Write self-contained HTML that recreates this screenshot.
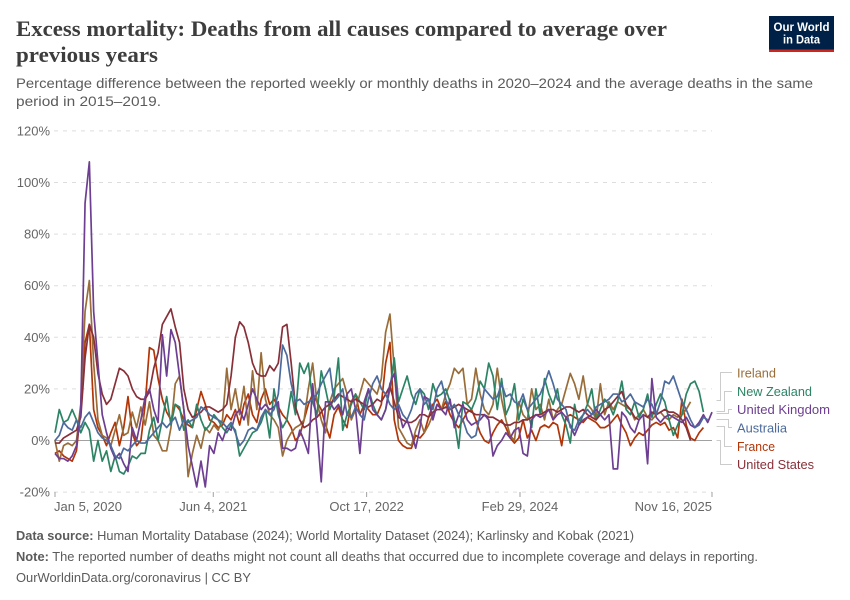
<!DOCTYPE html>
<html lang="en">
<head>
<meta charset="utf-8">
<title>Excess mortality: Deaths from all causes compared to average over previous years</title>
<style>
html,body{margin:0;padding:0;background:#fff}
svg{display:block}
text{font-family:"Liberation Sans",sans-serif}
.title{font-family:"Liberation Serif",serif;font-weight:700;font-size:22px;fill:#3d3d3d}
.sub{font-size:14px;fill:#5b5b5b}
.foot{font-size:12.5px;fill:#5b5b5b}
.tick{font-size:13px;fill:#666}
.leg{font-size:13px}
</style>
</head>
<body>
<svg id="chart" xmlns="http://www.w3.org/2000/svg" width="850" height="600" viewBox="0 0 850 600">
<rect x="0" y="0" width="850" height="600" fill="#fff"/>
<text class="title" x="16" y="36" textLength="651" lengthAdjust="spacingAndGlyphs">Excess mortality: Deaths from all causes compared to average over</text>
<text class="title" x="16" y="62" textLength="142" lengthAdjust="spacingAndGlyphs">previous years</text>
<text class="sub" x="16" y="88" textLength="797" lengthAdjust="spacingAndGlyphs">Percentage difference between the reported weekly or monthly deaths in 2020–2024 and the average deaths in the same</text>
<text class="sub" x="16" y="106" textLength="145" lengthAdjust="spacingAndGlyphs">period in 2015–2019.</text>
<g>
<rect x="769" y="16" width="65" height="36" fill="#002147"/>
<rect x="769" y="49.5" width="65" height="2.5" fill="#ce261e"/>
<text x="801.5" y="31" text-anchor="middle" font-size="12" font-weight="700" fill="#fff" textLength="56" lengthAdjust="spacingAndGlyphs">Our World</text>
<text x="801.5" y="43.5" text-anchor="middle" font-size="12" font-weight="700" fill="#fff" textLength="37" lengthAdjust="spacingAndGlyphs">in Data</text>
</g>
<g id="y-axis"></g>
<g id="x-axis"></g>
<g id="series" fill="none" stroke-width="1.7" stroke-linejoin="round"></g>
<g fill="none" stroke="#ccc" stroke-width="1">
<path d="M716.5 400.5H720.5V372.5H732"/>
<path d="M716.5 411.5H724.5V391.5H732"/>
<path d="M716.5 413.5H728.5V409.5H732"/>
<path d="M716.5 419.5H728.5V427.5H732"/>
<path d="M716.5 426.5H724.5V446.5H732"/>
<path d="M716.5 440.5H720.5V464.5H732"/>
</g>
<g>
<text class="leg" x="737" y="377.5" fill="#996D39" textLength="39" lengthAdjust="spacingAndGlyphs">Ireland</text>
<text class="leg" x="737" y="396" fill="#2C8465" textLength="75" lengthAdjust="spacingAndGlyphs">New Zealand</text>
<text class="leg" x="737" y="414" fill="#6D3E91" textLength="93" lengthAdjust="spacingAndGlyphs">United Kingdom</text>
<text class="leg" x="737" y="432.5" fill="#4C6A9C" textLength="50" lengthAdjust="spacingAndGlyphs">Australia</text>
<text class="leg" x="737" y="451" fill="#B13507" textLength="38" lengthAdjust="spacingAndGlyphs">France</text>
<text class="leg" x="737" y="469" fill="#883039" textLength="77" lengthAdjust="spacingAndGlyphs">United States</text>
</g>
<text class="foot" x="16" y="540" textLength="618" lengthAdjust="spacingAndGlyphs"><tspan font-weight="700">Data source:</tspan> Human Mortality Database (2024); World Mortality Dataset (2024); Karlinsky and Kobak (2021)</text>
<text class="foot" x="16" y="561" textLength="742" lengthAdjust="spacingAndGlyphs"><tspan font-weight="700">Note:</tspan> The reported number of deaths might not count all deaths that occurred due to incomplete coverage and delays in reporting.</text>
<text class="foot" x="16" y="582" textLength="235" lengthAdjust="spacingAndGlyphs">OurWorldinData.org/coronavirus | CC BY</text>
</svg>
<script>
const yTicks = [-20, 0, 20, 40, 60, 80, 100, 120];
const xTickDates = ["2020-01-05", "2021-06-04", "2022-10-17", "2024-02-29", "2025-11-16"];
const xTickLabels = ["Jan 5, 2020", "Jun 4, 2021", "Oct 17, 2022", "Feb 29, 2024", "Nov 16, 2025"];
const startDate = "2020-01-05";
const stepDays = 14;

const france = [
-5,-4,-6,-7,-8,-4,12,38,45,12, 5,2,-2,3,7,-2,5,17,3,-2,
0,14,36,35,24,16,11,8,14,12, 8,6,5,12,19,14,8,7,5,6,
10,8,12,6,14,18,10,7,16,20, 14,16,13,10,8,5,0,2,8,14,
18,15,12,6,1,10,13,8,5,15, 18,10,14,12,10,10,14,30,38,8,
0,-2,-3,-3,2,1,3,9,14,16, 12,15,10,7,5,8,11,12,8,3,
0,-1,3,6,8,5,1,-1,1,8, 1,4,0,5,6,5,7,6,-2,9,
10,9,8,7,9,8,7,5,5,6, 8,10,6,3,-2,1,3,2,4,6,
7,6,7,4,5,1,16,6,1,0, 3,5];
const ireland = [
0,-8,-2,-1,-2,0,14,50,62,30, 8,2,1,-2,4,10,2,3,11,5,
13,6,15,2,0,-4,-4,5,22,25, 12,-14,-5,2,-3,5,3,6,4,8,
28,12,20,10,21,6,27,12,34,16, 10,8,5,-6,0,3,5,6,8,20,
30,15,8,3,15,20,22,24,18,8, 12,18,24,22,20,18,24,42,49,28,
5,2,-1,-2,4,8,3,6,10,14, 12,18,22,28,26,28,14,16,28,18,
12,10,14,28,16,8,2,0,15,10, 8,20,12,14,8,16,8,12,14,20,
26,22,16,25,14,12,8,22,10,15, 12,15,14,13,12,8,10,12,9,8,
10,11,9,8,10,9,10,12,15];
const newZealand = [
3,12,7,8,12,8,3,7,4,-8, 0,-8,-4,-12,-6,-12,-13,-10,-6,-7,
-5,-5,4,9,0,8,17,6,14,13, 4,8,5,14,8,4,6,10,8,5,
3,6,4,-6,-3,0,3,4,7,12, 1,20,10,5,8,19,10,30,26,30,
15,10,27,20,12,17,32,4,10,14, 18,15,12,20,14,10,8,12,20,32,
15,20,25,18,14,20,18,12,22,17, 18,20,15,8,-3,15,14,12,16,23,
20,30,25,12,24,10,14,22,8,16, 12,5,20,10,24,18,14,20,10,6,
-1,14,6,10,14,20,8,12,16,14, 10,15,23,12,10,15,9,12,18,9,
14,18,15,8,2,6,10,18,22,23, 19,11];
const unitedStates = [
-1,-1,1,2,3,4,9,32,45,40, 26,18,14,16,22,28,27,25,20,17,
16,16,19,28,34,45,48,51,44,38, 20,12,9,10,11,13,13,12,11,12,
14,25,40,46,44,38,30,26,25,25, 29,27,30,44,45,30,13,8,5,6,
8,9,11,13,14,16,18,17,16,15, 16,15,14,13,14,16,15,18,21,15,
9,8,7,7,8,10,10,9,11,12, 12,13,12,13,14,13,12,11,10,10,
10,9,9,8,7,6,6,7,7,8, 8,9,10,10,11,12,12,11,12,13,
13,12,11,12,10,9,8,10,12,13, 15,17,19,14,12,9,8,10,9,11,
10,11,12,11,11,10,8,5,0];
const unitedKingdom = [
-5,-7,-7,-8,-6,-2,12,92,108,50, 30,10,3,-3,-7,-5,-9,-12,5,0,
8,17,20,12,7,41,25,43,38,25, 12,-2,-10,-18,-8,-18,-2,-5,3,0,
5,4,10,12,8,14,20,16,12,14, 12,13,15,-3,-3,-4,-3,4,0,-5,
22,5,-16,15,15,12,14,10,18,20, 12,-5,15,20,12,10,8,12,22,26,
12,5,8,3,-3,5,17,16,8,14, 12,10,16,5,10,14,8,6,7,8,
10,8,-6,-2,0,3,1,4,5,-5, -6,8,10,9,10,12,8,10,11,9,
6,2,6,8,9,10,12,10,8,10, -11,-11,11,9,5,3,8,10,-9,24,
9,7,9,10,9,8,7,9,6,5, 7,10,7,11];
const australia = [
0,2,7,5,4,8,5,9,11,7, 3,1,0,-2,-6,-7,-3,-4,-2,0,
-1,-1,1,3,5,7,5,7,9,4, 8,7,8,9,13,12,10,9,8,7,
5,7,3,-2,0,4,5,4,9,12, 10,12,18,37,33,22,15,16,14,15,
16,18,22,25,28,15,17,20,10,9, 13,10,8,16,22,25,20,18,14,12,
14,10,8,12,18,20,14,16,12,20, 23,16,12,14,10,8,3,1,2,10,
20,18,16,17,22,17,18,15,14,18, 12,14,16,18,22,27,22,16,14,12,
5,4,8,10,12,10,13,14,15,16, 18,18,15,16,18,15,14,13,16,14,
10,15,23,22,25,20,15,12,8,5, 6,9,8];

const NS = "http://www.w3.org/2000/svg";
const xStart = Date.parse("2020-01-05");
const xEnd = Date.parse("2025-11-16");
function xScale(ms) { return 55 + (ms - xStart) / (xEnd - xStart) * 657; }
function yScale(v) { return 440.5 - v * 2.58; }

const yAxis = document.getElementById("y-axis");
const xAxis = document.getElementById("x-axis");
const seriesGroup = document.getElementById("series");

yTicks.forEach(function (t) {
  const line = document.createElementNS(NS, "line");
  
  
  line.setAttribute("x1", 54);
  line.setAttribute("x2", 712);
  line.setAttribute("y1", yScale(t));
  line.setAttribute("y2", yScale(t));
  line.setAttribute("stroke", t === 0 ? "#a1a1a1" : "#dddddd");
  line.setAttribute("stroke-width", 1);
  if (t !== 0) line.setAttribute("stroke-dasharray", "4 5");
  yAxis.appendChild(line);
  const label = document.createElementNS(NS, "text");
  
  
  label.setAttribute("class", "tick");
  label.setAttribute("x", 50);
  label.setAttribute("y", yScale(t) + 4.5);
  label.setAttribute("text-anchor", "end");
  label.textContent = t + "%";
  yAxis.appendChild(label);
});

xTickDates.forEach(function (d, i) {
  const x = xScale(Date.parse(d));
  const tick = document.createElementNS(NS, "line");
  
  
  tick.setAttribute("x1", x);
  tick.setAttribute("x2", x);
  tick.setAttribute("y1", 492);
  tick.setAttribute("y2", 497);
  tick.setAttribute("stroke", "#a1a1a1");
  tick.setAttribute("stroke-width", 1);
  xAxis.appendChild(tick);
  const label = document.createElementNS(NS, "text");
  
  
  label.setAttribute("class", "tick");
  label.setAttribute("x", i === 0 ? x - 1 : x);
  label.setAttribute("y", 511);
  label.setAttribute("text-anchor", i === 0 ? "start" : (i === xTickDates.length - 1 ? "end" : "middle"));
  label.textContent = xTickLabels[i];
  xAxis.appendChild(label);
});

function drawSeries(values, color, name) {
  const stepMs = stepDays * 86400000;
  const start = Date.parse(startDate);
  let d = "";
  values.forEach(function (v, i) {
    d += (i ? "L" : "M") + xScale(start + i * stepMs).toFixed(2) + " " + yScale(v).toFixed(2);
  });
  const path = document.createElementNS(NS, "path");
  
  
  path.setAttribute("d", d);
  path.setAttribute("stroke", color);
  seriesGroup.appendChild(path);
}

drawSeries(france, "#B13507", "line-france");
drawSeries(ireland, "#996D39", "line-ireland");
drawSeries(newZealand, "#2C8465", "line-new-zealand");
drawSeries(unitedStates, "#883039", "line-united-states");
drawSeries(unitedKingdom, "#6D3E91", "line-united-kingdom");
drawSeries(australia, "#4C6A9C", "line-australia");
</script>
</body>
</html>
